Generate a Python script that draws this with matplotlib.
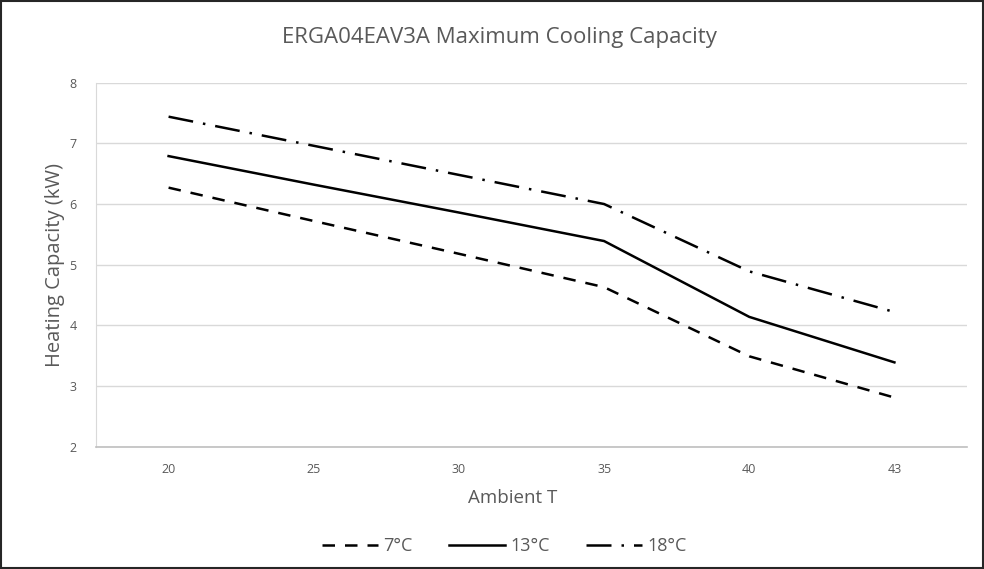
import matplotlib
matplotlib.use("Agg")
import matplotlib.pyplot as plt
from matplotlib.patches import Rectangle

categories = ["20", "25", "30", "35", "40", "43"]
series_names = ["7°C", "13°C", "18°C"]
s7 = [6.27, 5.72, 5.18, 4.63, 3.49, 2.81]
s13 = [6.79, 6.32, 5.86, 5.39, 4.14, 3.39]
s18 = [7.44, 6.96, 6.48, 6.00, 4.89, 4.22]
yticks = [2, 3, 4, 5, 6, 7, 8]

plt.rcParams['font.family'] = ['Open Sans', 'DejaVu Sans']
gray = '#595959'
grid = '#d9d9d9'

fig = plt.figure(figsize=(9.84, 5.69), dpi=100)
ax = fig.add_axes([96/984, 1-446.7/569, (967-96)/984, (446.7-82.7)/569])

x = list(range(len(categories)))
lw = 1.8
ax.plot(x, s7, color='black', lw=lw, dashes=(5, 4), label=series_names[0], dash_capstyle='butt')
ax.plot(x, s13, color='black', lw=lw, label=series_names[1])
ax.plot(x, s18, color='black', lw=lw, dashes=(10, 4, 1, 4), label=series_names[2], dash_capstyle='butt')

ax.set_xlim(-0.5, len(categories) - 0.5)
ax.set_ylim(2, 8)
ax.set_xticks(x)
ax.set_xticklabels(categories)
ax.set_yticks(yticks)
ax.grid(axis='y', color=grid, lw=1)
ax.set_axisbelow(True)
for s in ['top', 'right']:
    ax.spines[s].set_visible(False)
ax.spines['left'].set_color(grid)
ax.spines['bottom'].set_color('#bfbfbf')
ax.spines['bottom'].set_linewidth(1.2)
ax.tick_params(axis='both', length=0, colors=gray, labelsize=9)
ax.tick_params(axis='x', pad=12)
ax.tick_params(axis='y', pad=14)

ax.set_xlabel("Ambient T", color=gray, fontsize=13.5)
ax.xaxis.set_label_coords((513-96)/871, -(498-446.7)/364, transform=ax.transAxes)
ax.xaxis.label.set_va('center')
ax.set_ylabel("Heating Capacity (kW)", color=gray, fontsize=14.5)
ax.yaxis.set_label_coords(-(96-55)/871, 0.5, transform=ax.transAxes)
ax.yaxis.label.set_va('center')
fig.text(499/984, 1-38/569, "ERGA04EAV3A Maximum Cooling Capacity", ha='center', va='center',
         color=gray, fontsize=16)

leg = fig.legend(loc='center', bbox_to_anchor=(504/984, 1-546/569), ncol=3, frameon=False,
                 fontsize=13, handlelength=3.1, handletextpad=0.3, columnspacing=2.0)
for t in leg.get_texts():
    t.set_color(gray)

fig.patches.append(Rectangle((0.001, 0.001), 0.998, 0.997, transform=fig.transFigure,
                             fill=False, edgecolor='#262626', lw=1.5))

fig.savefig("out.png", dpi=100)
